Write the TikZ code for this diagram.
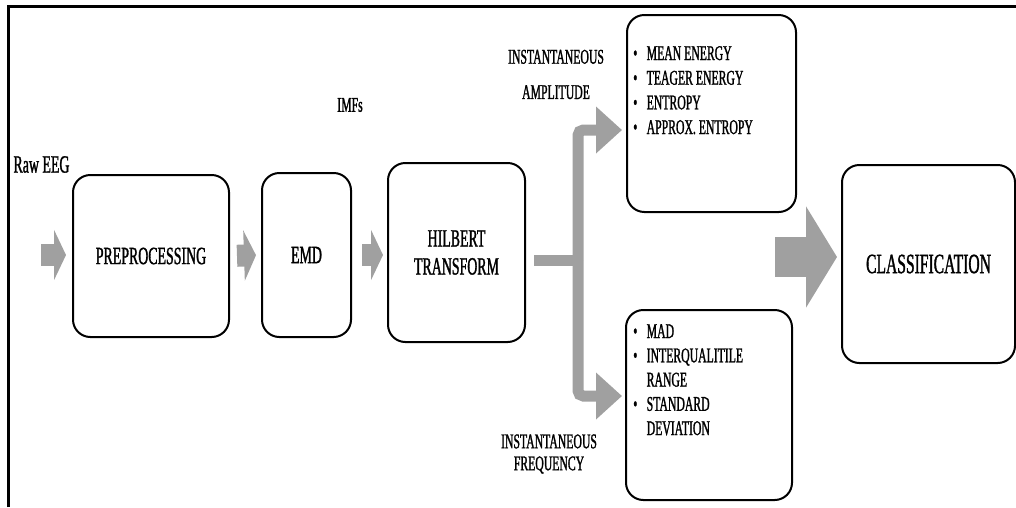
\documentclass[tikz,border=0pt]{standalone}
\usepackage{fontspec}
\setmainfont[FakeStretch=0.56, FakeBold=1.2]{Liberation Serif}
\usepackage{tikz}
\usetikzlibrary{arrows.meta}
\definecolor{arrowGray}{RGB}{160,160,160}
\tikzset{
  stageBox/.style={draw, line width=1.5pt, rounded corners=13pt, align=center,
                   font=\fontsize{18.6}{21}\selectfont},
  flowArrow/.style={draw=arrowGray, line width=16.5pt, -{Triangle[length=9pt, width=37.5pt]}},
  branchArrow/.style={draw=arrowGray, line width=8.25pt, rounded corners=4pt,
                      -{Triangle[length=19.5pt, width=34pt]}},
  smallLabel/.style={font=\fontsize{15.7}{16.5}\selectfont, align=center}
}

\begin{document}
\begin{tikzpicture}[x=0.75pt, y=-0.75pt]
    \useasboundingbox (0,0) rectangle (1016,507);
    \draw[line width=2.25pt] (8,507) -- (8,6) -- (1016,6);

    \node[font=\fontsize{18.6}{21}\selectfont] (raw) at (41.5,164.5) {Raw EEG};
    \node[smallLabel] (imfs) at (350,105) {IMFs};
    \node[smallLabel] (ampLbl) at (556,74.5) {INSTANTANEOUS\\[10pt]AMPLITUDE};
    \node[smallLabel] (frqLbl) at (549,454) {INSTANTANEOUS\\FREQUENCY};

    \node[stageBox, minimum width=117pt, minimum height=121.5pt] (pre) at (151,256) {PREPROCESSING};
    \node[stageBox, minimum width=66.75pt, minimum height=123pt] (emd) at (306.5,255) {EMD};
    \node[stageBox, minimum width=102.75pt, minimum height=134.25pt] (hil) at (456.5,252.5) {HILBERT\\TRANSFORM};
    \node[stageBox, minimum width=126.75pt, minimum height=147.75pt] (amp) at (711.5,113.5) {};
    \node[stageBox, minimum width=124.5pt, minimum height=142.5pt] (frq) at (709,405) {};
    \node[stageBox, minimum width=129.75pt, minimum height=148.5pt,
          font=\fontsize{20.9}{24}\selectfont] (cls) at (928.5,264) {CLASSIFICATION};

    \node[anchor=base west, inner sep=0pt, font=\fontsize{15.7}{18.5}\selectfont] (ampList) at (633,60)
        {\begin{tabular}[t]{@{}l@{\hspace{7pt}}l@{}}
           \textbullet & MEAN ENERGY\\
           \textbullet & TEAGER ENERGY\\
           \textbullet & ENTROPY\\
           \textbullet & APPROX. ENTROPY
         \end{tabular}};
    \node[anchor=base west, inner sep=0pt, font=\fontsize{15.7}{18.2}\selectfont] (frqList) at (633,338)
        {\begin{tabular}[t]{@{}l@{\hspace{7pt}}l@{}}
           \textbullet & MAD\\
           \textbullet & INTERQUALITILE\\
                       & RANGE\\
           \textbullet & STANDARD\\
                       & DEVIATION
         \end{tabular}};

    \coordinate (rawIn) at (41,255);
    \coordinate (split) at (578,260);
    \coordinate (ampIn) at (622,130);
    \coordinate (frqIn) at (622,396);
    \coordinate (featOut) at (775,257);

    \draw[flowArrow, shorten >=4.5pt] (rawIn) -- (rawIn -| pre.west);
    \draw[flowArrow, shorten <=5.25pt, shorten >=3.75pt] (pre.east) -- (emd.west);
    \draw[flowArrow, shorten <=7.5pt, shorten >=3pt] (emd.east) -- (emd.east -| hil.west);
    \draw[branchArrow, -, shorten <=6pt] (hil.east |- split) -- (split);
    \draw[branchArrow] (split) |- (ampIn);
    \draw[branchArrow] (split) |- (frqIn);
    \draw[flowArrow, line width=30pt, -{Triangle[length=23.25pt, width=75pt]}, shorten >=3pt]
        (featOut) -- (featOut -| cls.west);
\end{tikzpicture}
\end{document}
